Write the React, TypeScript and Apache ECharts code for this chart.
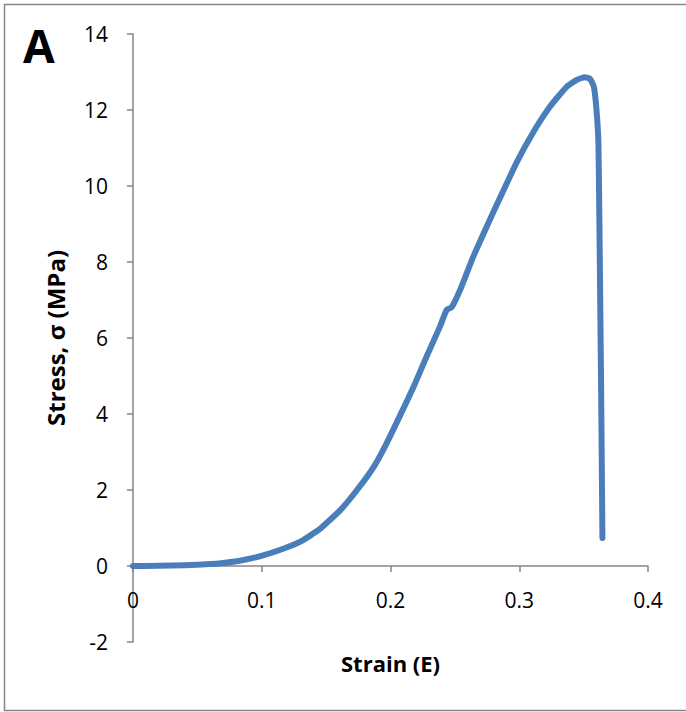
import React, { useEffect, useRef } from "react";
import * as echarts from "echarts";

const strain = [0, 0.02, 0.04, 0.06, 0.07, 0.083, 0.099, 0.114, 0.13, 0.145, 0.161, 0.174, 0.187, 0.197, 0.207, 0.218, 0.228, 0.2384, 0.2436, 0.2475, 0.254, 0.2643, 0.2747, 0.2837, 0.298, 0.311, 0.3239, 0.3368, 0.345, 0.351, 0.355, 0.358, 0.36, 0.3615, 0.3622, 0.3635, 0.3646];
const stress = [0, 0.005, 0.02, 0.05, 0.08, 0.14, 0.26, 0.42, 0.64, 0.97, 1.47, 2.0, 2.61, 3.23, 3.93, 4.72, 5.51, 6.3, 6.74, 6.81, 7.26, 8.14, 8.93, 9.59, 10.62, 11.42, 12.09, 12.61, 12.8, 12.86, 12.82, 12.61, 12.0, 11.13, 9.19, 5.0, 0.74];

const xTitle = "Strain (E)";
const yTitle = "Stress, σ (MPa)";
const panelLabel = "A";

export default function App() {
  const ref = useRef<HTMLDivElement>(null);
  useEffect(() => {
    if (!ref.current) return;
    const chart = echarts.init(ref.current, null, { renderer: "svg" });
    const axisColor = "#868686";
    const font = "'Open Sans', sans-serif";
    const xCommon = { type: "value", min: 0, max: 0.4, interval: 0.1, splitLine: { show: false } };
    chart.setOption({
      animation: false,
      backgroundColor: "#ffffff",
      grid: { left: 133, right: 38, top: 34, bottom: 70, containLabel: false, outerBoundsMode: "none" },
      graphic: [
        {
          type: "rect",
          shape: { x: 4.5, y: 4.5, width: 690, height: 706 },
          style: { fill: "none", stroke: axisColor, lineWidth: 1.5 },
          silent: true,
        },
        {
          type: "text",
          left: 23,
          top: 22,
          style: { text: panelLabel, fontSize: 46, fontWeight: "bold", fontFamily: font, fill: "#000" },
        },
      ],
      xAxis: [
        {
          ...xCommon,
          position: "bottom",
          name: xTitle,
          nameLocation: "middle",
          nameGap: 10,
          nameTextStyle: { fontSize: 22, fontWeight: "bold", fontFamily: font, color: "#000" },
          axisLine: { show: false, onZero: false },
          axisTick: { show: false },
          axisLabel: { margin: -53, fontSize: 21, fontFamily: font, color: "#000" },
        },
        {
          ...xCommon,
          position: "bottom",
          axisLine: { show: true, onZero: true, lineStyle: { color: axisColor, width: 1.5 } },
          axisTick: { show: true, length: 6, lineStyle: { color: axisColor, width: 1.5 } },
          axisLabel: { show: false },
        },
      ],
      yAxis: {
        type: "value",
        min: -2,
        max: 14,
        interval: 2,
        name: yTitle,
        nameLocation: "middle",
        nameGap: 66,
        nameTextStyle: { fontSize: 24, fontWeight: "bold", fontFamily: font, color: "#000" },
        axisLine: { show: true, onZero: false, lineStyle: { color: axisColor, width: 1.5 } },
        axisTick: { show: true, length: 6, lineStyle: { color: axisColor, width: 1.5 } },
        axisLabel: { margin: 25, fontSize: 21, fontFamily: font, color: "#000" },
        splitLine: { show: false },
      },
      series: [
        {
          type: "line",
          xAxisIndex: 0,
          data: strain.map((s, i) => [s, stress[i]]),
          showSymbol: false,
          smooth: 0.15,
          lineStyle: { color: "#4a7ebb", width: 6, cap: "round", join: "round" },
        },
      ],
    });
    return () => chart.dispose();
  }, []);
  return (
    <div
      ref={ref}
      style={{ position: "fixed", left: 0, top: 0, width: 686, height: 712, background: "#fff" }}
    />
  );
}
